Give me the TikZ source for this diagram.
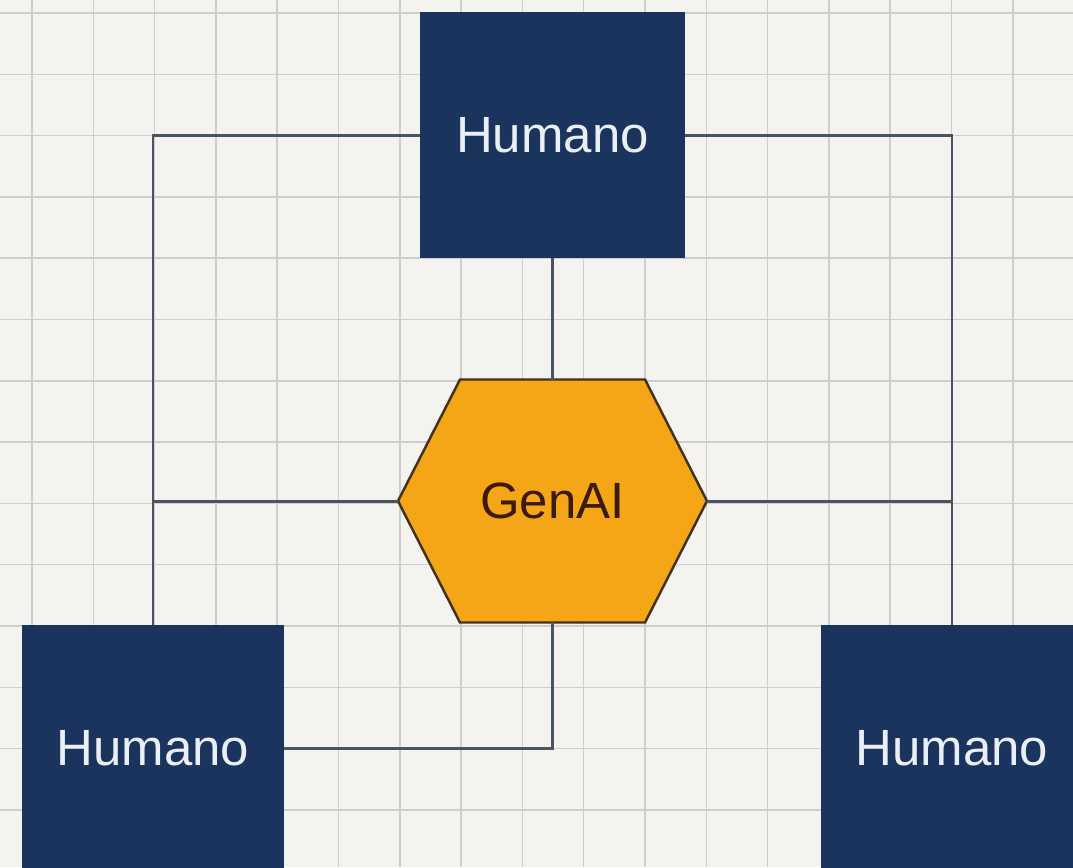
\documentclass[tikz,border=0pt]{standalone}
\usepackage{fontspec}
\setmainfont{Liberation Sans}
\usepackage{tikz}
\usetikzlibrary{calc, positioning}
\definecolor{GNavy}{RGB}{26,52,94}
\definecolor{GOrange}{RGB}{245,166,22}
\definecolor{GBrown}{RGB}{66,50,28}
\definecolor{GInk}{RGB}{60,26,16}
\definecolor{GLink}{RGB}{74,84,96}
\definecolor{GGrid}{RGB}{206,206,204}
\definecolor{GPaper}{RGB}{244,243,239}
\definecolor{GWhite}{RGB}{234,239,246}

\begin{document}
\begin{tikzpicture}[x=0.02cm, y=-0.02cm,
          human/.style={rectangle, fill=GNavy, draw=none, outer sep=0pt,
                        minimum width=5.24cm, minimum height=4.92cm,
                        text=GWhite, font=\fontsize{29}{34}\selectfont},
          hexlabel/.style={rectangle, draw=none, outer sep=0pt,
                           minimum width=6.18cm, minimum height=4.86cm,
                           text=GInk, font=\fontsize{29}{34}\selectfont},
          hexline/.style={fill=GOrange, draw=GBrown, line width=1.4pt,
                          line join=miter},
          link/.style={draw=GLink, line width=1.7pt}
        ]
        \useasboundingbox (0,0) rectangle (1073,867);
        \clip (0,0) rectangle (1073,867);
        % Paper and grid
        \fill[GPaper] (0,0) rectangle (1073,867);
        \foreach \i in {0,...,17}
          \draw[GGrid, line width=0.85pt] (32+61.3*\i,0) -- ++(0,867);
        \foreach \j in {0,...,14}
          \draw[GGrid, line width=0.85pt] (0,13+61.3*\j) -- ++(1073,0);

        % Humans
        \node[human, minimum width=5.3cm] (top) at (552.5,135) {Humano};
        \node[human] (bl) at (153,748) {Humano};
        \node[human] (br) at (952,748) {Humano};

        % GenAI hexagon
        \coordinate (genc) at (552.5,501);
        \draw[hexline] ($(genc)+(-154.5,0)$) -- ++(62,-121.5) -- ++(185,0)
              -- ++(62,121.5) -- ++(-62,121.5) -- ++(-185,0) -- cycle;
        \node[hexlabel] (gen) at (genc) {GenAI};

        % Connectors
        \draw[link] (top.west) -| (bl.north);
        \draw[link] (top.east) -| (br.north);
        \draw[link] (top.south) -- (gen.north);
        \draw[link] (gen.west) -- (gen.west -| bl.north);
        \draw[link] (gen.east) -- (gen.east -| br.north);
        \draw[link] (gen.south) |- (bl.east);
      \end{tikzpicture}
\end{document}
